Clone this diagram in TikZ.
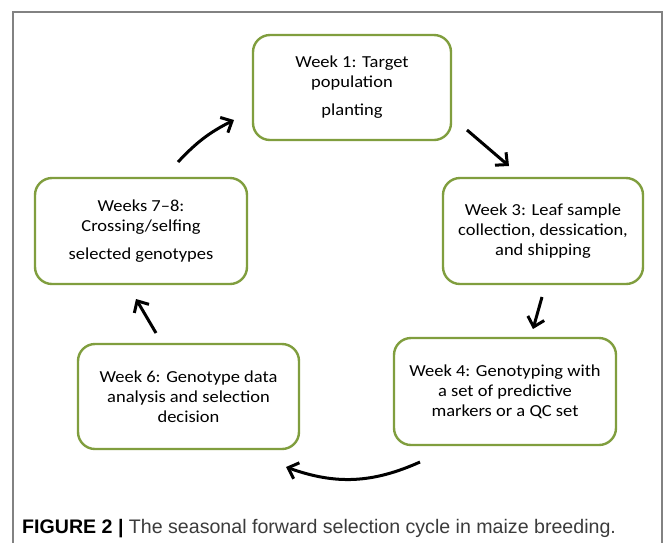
\documentclass[tikz,border=0pt]{standalone}
\usepackage{fontspec}
\usetikzlibrary{arrows.meta}
\newfontfamily\boxfont[FakeStretch=1.1,Ligatures=TeX]{Carlito}
\newfontfamily\capfont{Liberation Sans}
\definecolor{boxgreen}{RGB}{128,158,62}
\definecolor{framegray}{RGB}{130,130,130}
\definecolor{captext}{RGB}{60,60,60}
\begin{document}
\begin{tikzpicture}[x=1pt,y=-1pt,
  stepbox/.style={draw=boxgreen, line width=2.4pt, rounded corners=17pt,
    minimum width=#1, align=center, inner sep=0pt,
    font=\boxfont\fontsize{16.8}{20}\selectfont, text=black},
  cyc/.style={line width=3pt, -{Straight Barb[length=9pt,width=17pt,line width=3pt]}, black}]
\useasboundingbox (0,0) rectangle (663,542);
\fill[white] (0,0) rectangle (663,542);
% frame
\draw[framegray, line width=1.4pt] (13,560) -- (13,12) -- (662,12) -- (662,560);
% boxes
\node[stepbox=198pt, minimum height=105pt] (w1) at (352,87.5) {Week 1: Target\\population\\[8pt]planting};
\node[stepbox=212pt, minimum height=106pt] (w7) at (141,231) {Weeks 7–8:\\Crossing/selfing\\[8pt]selected genotypes};
\node[stepbox=200pt, minimum height=106pt] (w3) at (543,231) {Week 3: Leaf sample\\collection, dessication,\\and shipping};
\node[stepbox=221pt, minimum height=105pt] (w6) at (188.5,396.5) {Week 6: Genotype data\\analysis and selection\\decision};
\node[stepbox=222pt, minimum height=107pt] (w4) at (505,391.5) {Week 4: Genotyping  with\\a set of predictive\\markers or a QC set};
% arrow ends
\coordinate (a1s) at (178,162); \coordinate (a1e) at (234,120);
\coordinate (a2s) at (467,130); \coordinate (a2e) at (509,166);
\coordinate (a3s) at (542,297); \coordinate (a3e) at (533,329);
\coordinate (a4s) at (420,462); \coordinate (a4e) at (286,467);
\coordinate (a5s) at (156,333); \coordinate (a5e) at (136,299);
\draw[cyc] (a1s) to[bend left=10] (a1e);
\draw[cyc] (a2s) -- (a2e);
\draw[cyc] (a3s) -- (a3e);
\draw[cyc] (a4s) to[bend left=22] (a4e);
\draw[cyc] (a5s) -- (a5e);
% caption
\node[anchor=base west, inner sep=0pt, font=\capfont\fontsize{19.6}{22}\selectfont, text=captext] (cap) at (22,533)
  {\textbf{\color{black}FIGURE 2 |} The seasonal forward selection cycle in maize breeding.};
\end{tikzpicture}
\end{document}
